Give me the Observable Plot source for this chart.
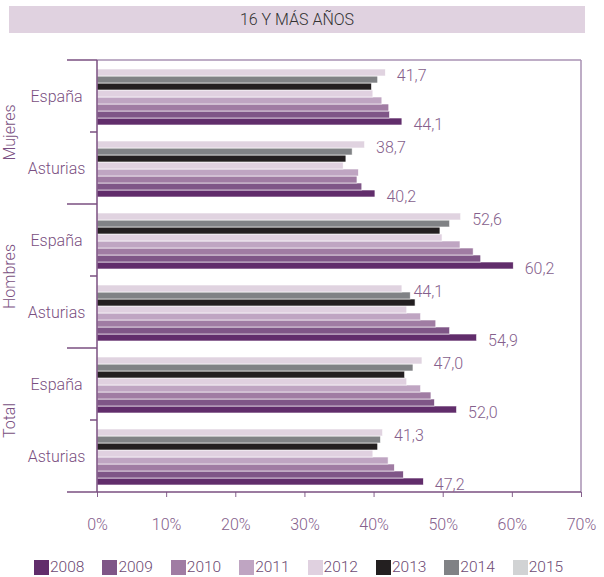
<!DOCTYPE html>
<html><head><meta charset="utf-8">
<script src="https://cdn.jsdelivr.net/npm/d3@7"></script>
<script src="https://cdn.jsdelivr.net/npm/@observablehq/plot@0.6"></script>
<style>
body{margin:0;background:#fff;font-family:Roboto,"Liberation Sans",sans-serif;}
#wrap{position:relative;width:604px;height:577px;overflow:hidden;}
#title{position:absolute;left:9px;top:6px;width:576px;height:27px;background:#e0d2e0;color:#333;font-size:16px;font-weight:300;display:flex;align-items:center;justify-content:center;}
#chart{position:absolute;left:0;top:40px;}
#legend{position:absolute;left:34px;top:560px;display:flex;}
.item{width:68.4px;display:flex;align-items:center;font-size:15.5px;font-weight:300;color:#6d4a73;line-height:15px;}
.sw{width:15px;height:15px;margin-right:1px;flex:none;}
</style></head>
<body><div id="wrap"><div id="title">16 Y MÁS AÑOS</div><div id="chart"></div><div id="legend"></div></div>
<script>
// ---- data ----
const sexes = ["Mujeres", "Hombres", "Total"];
const regions = ["España", "Asturias"];
const years = ["2008", "2009", "2010", "2011", "2012", "2013", "2014", "2015"];
// values per year 2008..2015 (%)
const mujeresEspana   = [44.1, 42.3, 42.2, 41.2, 39.9, 39.7, 40.6, 41.7];
const mujeresAsturias = [40.2, 38.3, 37.6, 37.8, 35.6, 36.0, 36.9, 38.7];
const hombresEspana   = [60.2, 55.5, 54.4, 52.5, 49.9, 49.6, 51.0, 52.6];
const hombresAsturias = [54.9, 51.0, 49.0, 46.8, 44.8, 46.0, 45.3, 44.1];
const totalEspana     = [52.0, 48.8, 48.3, 46.8, 44.8, 44.5, 45.7, 47.0];
const totalAsturias   = [47.2, 44.3, 43.0, 42.1, 39.9, 40.6, 41.0, 41.3];
const xTicks = [0, 10, 20, 30, 40, 50, 60, 70];

const barColors    = ["#612d6b", "#7f5687", "#a07ca3", "#bfa5c2", "#e0d1e0", "#231f20", "#808285", "#e0d3e0"];
const legendColors = ["#612d6b", "#7f5687", "#a07ca3", "#bfa5c2", "#e0d1e0", "#231f20", "#808285", "#d1d3d4"];

const series = {
  "Mujeres España": mujeresEspana, "Mujeres Asturias": mujeresAsturias,
  "Hombres España": hombresEspana, "Hombres Asturias": hombresAsturias,
  "Total España": totalEspana, "Total Asturias": totalAsturias
};
const groups = sexes.flatMap(s => regions.map(r => s + " " + r));
const groupInfo = sexes.flatMap(s => regions.map(r => ({sex: s, region: r, group: s + " " + r})));
const rows = groupInfo.flatMap(g => years.map((y, i) => ({...g, year: y, value: series[g.group][i]})));
const labelRows = rows.filter(d => d.year === "2008" || d.year === "2015");

const purple = "#7a4f81";
const txt = "#85608c";
const fmt = v => v.toFixed(1).replace(".", ",");

const W = 604, H = 500;
const chart = Plot.plot({
  width: W, height: H,
  marginTop: 20, marginBottom: 48, marginLeft: 97, marginRight: 23,
  style: {fontFamily: "Roboto, 'Liberation Sans', sans-serif", fontSize: "16px", background: "transparent"},
  x: {domain: [0, 70]},
  y: {domain: [...years].reverse(), paddingInner: 0, paddingOuter: 0.7, align: 0.57, axis: null},
  fy: {domain: groups, padding: 0, axis: null},
  color: {domain: years, range: barColors},
  marks: [
    Plot.barX(rows, {x: "value", y: "year", fy: "group", fill: "year", stroke: "white", strokeWidth: 0.6}),
    Plot.text(labelRows, {x: "value", y: "year", fy: "group", text: d => fmt(d.value), dx: 11, dy: 3,
      textAnchor: "start", fill: txt, fontSize: 16, fontWeight: 300}),
    Plot.text(groupInfo, {fy: "group", text: "region", frameAnchor: "left", dx: -41,
      textAnchor: "middle", fill: purple, fontSize: 16, fontWeight: 300}),
    Plot.text(sexes.map(s => ({sex: s, group: s + " España"})), {fy: "group", text: "sex",
      frameAnchor: "bottom-left", dx: -83, rotate: -90, textAnchor: "middle",
      fill: purple, fontSize: 16, fontWeight: 300}),
    Plot.axisX({ticks: xTicks, tickFormat: d => d + "%", tickSize: 5, tickPadding: 21,
      fontSize: 16, fontWeight: 300, color: txt, label: null})
  ]
});
document.getElementById("chart").appendChild(chart);

// frame, axis lines and category separators
const xs = chart.scale("x"), fys = chart.scale("fy");
const xStart = xs.apply(0), xEnd = xs.apply(70);
const yTop = fys.apply(groups[0]);
const yBottom = fys.apply(groups[groups.length - 1]) + fys.bandwidth;
const svg = d3.select(chart);
const gl = svg.append("g").attr("fill", "none");
function seg(ax, bx, ay, by, color) {
  gl.append("line").attr("x1", ax).attr("x2", bx).attr("y1", ay).attr("y2", by)
    .attr("stroke", color).attr("stroke-width", 1.5);
}
seg(xStart, xEnd, yTop, yTop, "#a992b3");
seg(xEnd, xEnd, yTop, yBottom, "#a992b3");
seg(xStart, xStart, yTop, yBottom, purple);
seg(xStart, xEnd, yBottom, yBottom, purple);
const bounds = groups.map(d => fys.apply(d)).concat([yBottom]);
bounds.forEach((yy, i) => seg(i % 2 === 0 ? xStart - 30 : xStart - 7, xStart, yy, yy, purple));

// legend
const leg = d3.select("#legend");
years.forEach((y, i) => {
  const it = leg.append("div").attr("class", "item");
  it.append("div").attr("class", "sw").style("background", legendColors[i]);
  it.append("span").text(y);
});
</script>
</body></html>
